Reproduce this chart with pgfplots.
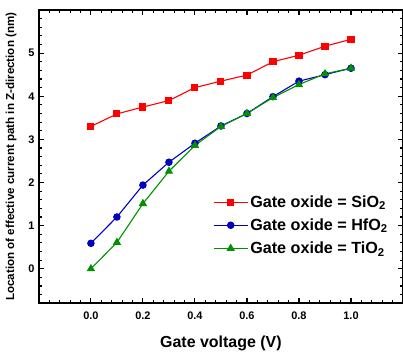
\documentclass[border=0pt]{standalone}
\usepackage{fontspec}
\setmainfont{Liberation Sans}
\usepackage{pgfplots}
\pgfplotsset{compat=1.18}
\definecolor{cred}{RGB}{255,0,0}
\definecolor{cblue}{RGB}{0,0,190}
\definecolor{cgreen}{RGB}{0,145,0}
\begin{document}
\begin{tikzpicture}
\begin{axis}[
  name=ax,
  scale only axis,
  width=365pt, height=294pt,
  xmin=-0.2, xmax=1.2, ymin=-0.8, ymax=6,
  xtick={0,0.2,0.4,0.6,0.8,1.0},
  xticklabels={0.0,0.2,0.4,0.6,0.8,1.0},
  minor xtick={-0.16,-0.12,-0.08,-0.04,0.04,0.08,0.12,0.16,0.24,0.28,0.32,0.36,0.44,0.48,0.52,0.56,0.64,0.68,0.72,0.76,0.84,0.88,0.92,0.96,1.04,1.08,1.12,1.16},
  ytick={0,1,2,3,4,5},
  minor ytick={-0.6,-0.4,-0.2,0.2,0.4,0.6,0.8,1.2,1.4,1.6,1.8,2.2,2.4,2.6,2.8,3.2,3.4,3.6,3.8,4.2,4.4,4.6,4.8,5.2,5.4,5.6,5.8},
  tick align=inside,
  major tick length=5pt, minor tick length=3pt,
  every tick/.style={black, line width=1.1pt},
  axis line style={line width=1.6pt},
  /pgf/number format/assume math mode=true,
  ticklabel style={font=\fontsize{11}{13}\selectfont\bfseries},
  xticklabel style={yshift=-5pt},
  yticklabel style={xshift=-1pt},
  xlabel={Gate voltage (V)},
  every axis x label/.style={at={(axis description cs:0.5,0)}, anchor=north, yshift=-29pt, font=\fontsize{16}{19}\selectfont\bfseries},
  ylabel={Location of effective current path in Z-direction (nm)},
  every axis y label/.style={at={(axis description cs:0,0.5)}, xshift=-19pt, rotate=90, anchor=south, font=\fontsize{11.6}{14}\selectfont\bfseries},
  legend style={draw=none, fill=none, at={(axis description cs:0.478,0.375)}, anchor=north west,
    font=\fontsize{16.2}{19}\selectfont\bfseries, inner sep=0pt, row sep=6pt,
    /tikz/every even column/.append style={column sep=3pt}},
  legend cell align=left,
  legend image code/.code={\draw[mark repeat=2,mark phase=2] plot coordinates {(0cm,0cm)(0.6cm,0cm)(1.2cm,0cm)};},
  every axis plot/.append style={line width=1.1pt},
]
\addplot[color=cred, mark=square*, mark size=3pt] coordinates {
(0.0,3.30)(0.1,3.59)(0.2,3.75)(0.3,3.90)(0.4,4.20)(0.5,4.35)(0.6,4.49)(0.7,4.80)(0.8,4.95)(0.9,5.16)(1.0,5.32)};
\addlegendentry{Gate oxide = SiO\textsubscript{2}}
\addplot[color=cblue, mark=*, mark size=3.2pt] coordinates {
(0.0,0.59)(0.1,1.20)(0.2,1.94)(0.3,2.47)(0.4,2.91)(0.5,3.31)(0.6,3.60)(0.7,3.99)(0.8,4.35)(0.9,4.50)(1.0,4.65)};
\addlegendentry{Gate oxide = HfO\textsubscript{2}}
\addplot[color=cgreen, mark=triangle*, mark size=3.8pt] coordinates {
(0.0,0.00)(0.1,0.61)(0.2,1.51)(0.3,2.26)(0.4,2.86)(0.5,3.30)(0.6,3.60)(0.7,3.97)(0.8,4.27)(0.9,4.52)(1.0,4.65)};
\addlegendentry{Gate oxide = TiO\textsubscript{2}}
\end{axis}
\pgfresetboundingbox
\path[use as bounding box] ([xshift=-39pt,yshift=-48pt]ax.south west) rectangle ([yshift=10pt]ax.north east);
\end{tikzpicture}
\end{document}
